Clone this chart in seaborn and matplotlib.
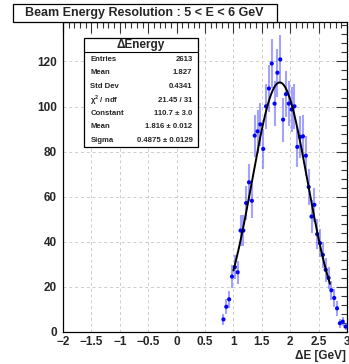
import numpy as np
import pandas as pd
import matplotlib
matplotlib.use("Agg")
import matplotlib.pyplot as plt
import seaborn as sns
from matplotlib.patches import Rectangle
from matplotlib.ticker import MultipleLocator

# ---- data ----
bin_centers = [0.825, 0.875, 0.925, 0.975, 1.025, 1.075, 1.125, 1.175, 1.225, 1.275,
               1.325, 1.375, 1.425, 1.475, 1.525, 1.575, 1.625, 1.675, 1.725, 1.775,
               1.825, 1.875, 1.925, 1.975, 2.025, 2.075, 2.125, 2.175, 2.225, 2.275,
               2.325, 2.375, 2.425, 2.475, 2.525, 2.575, 2.625, 2.675, 2.725, 2.775,
               2.825, 2.875, 2.925, 2.975]
counts = [5.6, 11.2, 14.5, 24.6, 28.8, 26.5, 45.0, 45.0, 57.2, 66.4,
          58.2, 87.1, 89.0, 92.1, 81.2, 100.1, 108.0, 119.1, 101.3, 115.0,
          120.9, 94.2, 105.5, 101.3, 98.7, 100.1, 82.1, 86.5, 86.8, 78.2,
          64.3, 51.2, 56.4, 43.4, 39.4, 34.2, 27.6, 24.0, 18.5, 15.1,
          10.5, 3.9, 4.6, 2.4]
fit_constant = 110.7
fit_mean = 1.816
fit_sigma = 0.4875
fit_range = [1.0, 2.7]

title_text = "Beam Energy Resolution : 5 < E < 6 GeV"
stats_title = "\u0394Energy"
stats_labels = ["Entries", "Mean", "Std Dev", "\u03c7$^{2}$ / ndf", "Constant", "Mean", "Sigma"]
stats_values = ["2613", "1.827", "0.4341", "21.45 / 31", "110.7 \u00b1 3.0",
                "1.816 \u00b1 0.012", "0.4875 \u00b1 0.0129"]
xtick_values = [-2, -1.5, -1, -0.5, 0, 0.5, 1, 1.5, 2, 2.5, 3]
xtick_labels = ["\u22122", "\u22121.5", "\u22121", "\u22120.5", "0", "0.5", "1",
                "1.5", "2", "2.5", "3"]
xlabel = "\u0394E [GeV]"

# ---- figure ----
sns.set_style("white")
plt.rcParams['font.family'] = ['Liberation Sans', 'DejaVu Sans']
plt.rcParams['mathtext.fontset'] = 'custom'
plt.rcParams['mathtext.rm'] = 'Liberation Sans:bold'

W, H = 349, 364
fig = plt.figure(figsize=(W / 100, H / 100), dpi=100)
ax_l, ax_r, ax_t, ax_b = 63, 347, 22, 332
ax = fig.add_axes([ax_l / W, 1 - ax_b / H, (ax_r - ax_l) / W, (ax_b - ax_t) / H])

df = pd.DataFrame({"x": bin_centers, "y": counts})
df["err"] = np.sqrt(df["y"])

ax.errorbar(df["x"], df["y"], yerr=df["err"], fmt="none",
            ecolor=(0.4, 0.4, 1.0, 0.6), elinewidth=1.5, zorder=3)
sns.scatterplot(data=df, x="x", y="y", ax=ax, color="#0000ff", s=9,
                edgecolor="none", zorder=4, legend=False)

xf = np.linspace(fit_range[0], fit_range[1], 300)
fit_df = pd.DataFrame({"x": xf,
                       "y": fit_constant * np.exp(-0.5 * ((xf - fit_mean) / fit_sigma) ** 2)})
sns.lineplot(data=fit_df, x="x", y="y", ax=ax, color="black", linewidth=1.4, zorder=5)

ax.set_xlim(-2, 3)
ax.set_ylim(0, 137.5)
ax.xaxis.set_major_locator(MultipleLocator(0.5))
ax.xaxis.set_minor_locator(MultipleLocator(0.1))
ax.yaxis.set_major_locator(MultipleLocator(20))
ax.yaxis.set_minor_locator(MultipleLocator(4))
ax.tick_params(which="both", direction="in", top=True, right=True, width=0.8, color="#333333")
ax.tick_params(which="major", length=8, labelsize=8.5)
ax.tick_params(which="minor", length=4)
ax.tick_params(axis="x", pad=3)
ax.tick_params(axis="y", pad=4.5)
ax.set_xticks(xtick_values)
ax.set_xticklabels(xtick_labels, fontweight="bold", fontsize=8.5)
for lab in ax.get_yticklabels():
    lab.set_fontweight("bold")
    lab.set_fontsize(8.5)
ax.grid(True, which="major", color="#cccccc", linestyle=(0, (3, 3)), linewidth=0.7)
ax.set_axisbelow(True)
for s in ax.spines.values():
    s.set_color("black")
    s.set_linewidth(0.9)
ax.set_xlabel("")
ax.set_ylabel("")

fig.text(346 / W, 1 - 356 / H, xlabel, ha="right", va="center",
         fontsize=8.5, fontweight="bold")

# title box
tb = Rectangle((13 / W, 1 - 22 / H), (277 - 13) / W, (22 - 4) / H,
               transform=fig.transFigure, facecolor="white", edgecolor="black",
               linewidth=0.9, zorder=10)
fig.patches.append(tb)
fig.text(144 / W, 1 - 13 / H, title_text, ha="center", va="center",
         fontsize=9, fontweight="bold", zorder=11)

# stats box
sx0, sx1, sy0, sy1 = 84, 198, 38, 147
sb = Rectangle((sx0 / W, 1 - sy1 / H), (sx1 - sx0) / W, (sy1 - sy0) / H,
               transform=fig.transFigure, facecolor="white", edgecolor="black",
               linewidth=0.9, zorder=10)
fig.patches.append(sb)
fig.lines.append(plt.Line2D([sx0 / W, sx1 / W], [1 - 52 / H, 1 - 52 / H],
                            transform=fig.transFigure, color="black", linewidth=0.8, zorder=11))
fig.text((sx0 + sx1) / 2 / W, 1 - 45 / H, stats_title, ha="center", va="center",
         fontsize=8.5, fontweight="bold", zorder=11)
row_y = [59.5, 73, 86.5, 100, 113.5, 127, 140]
for yy, lab, val in zip(row_y, stats_labels, stats_values):
    fig.text(90.5 / W, 1 - yy / H, lab, ha="left", va="center",
             fontsize=5.6, fontweight="bold", zorder=11)
    fig.text(192.5 / W, 1 - yy / H, val, ha="right", va="center",
             fontsize=5.6, fontweight="bold", zorder=11)

fig.savefig("out.png", dpi=100)
